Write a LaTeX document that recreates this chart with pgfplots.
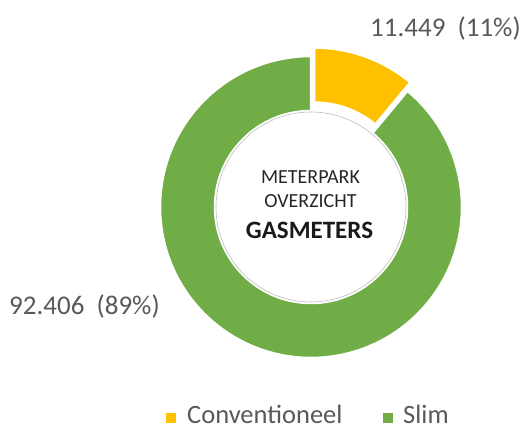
\documentclass[border=0pt]{standalone}
\usepackage{pgfplots}
\pgfplotsset{compat=1.18}
\usepackage{pgfplotstable}
\usepackage{fontspec}
\setmainfont{Carlito}
\definecolor{conv}{HTML}{FFC000}
\definecolor{slim}{HTML}{70AD47}
\definecolor{lbl}{HTML}{595959}
\definecolor{dark}{HTML}{262626}

\pgfplotstableread{
label value
Conventioneel 11449
Slim 92406
}\meterdata

\begin{document}
\begin{tikzpicture}
\pgfplotstablegetelem{0}{value}\of\meterdata \let\vconv\pgfplotsretval
\pgfplotstablegetelem{1}{value}\of\meterdata \let\vslim\pgfplotsretval
\edef\aconv{\fpeval{360*\vconv/(\vconv+\vslim)}}
\edef\aend{\fpeval{90-\aconv}}
\edef\amid{\fpeval{90-\aconv/2}}
\begin{axis}[
    width=528pt, height=430pt, scale only axis,
    xmin=0, xmax=528, ymin=0, ymax=430,
    hide axis, clip=false,
]
\coordinate (c) at (axis cs:311,223);
\coordinate (cc) at ([shift={(\amid:9pt)}]c);
% Slim
\fill[slim, draw=white, line width=2.5pt]
  ([shift={(\aend:151pt)}]c) arc[start angle=\aend, end angle=-270, radius=151pt]
  -- ([shift={(90:96pt)}]c) arc[start angle=-270, end angle=\aend, radius=96pt] -- cycle;
% Conventioneel (exploded)
\fill[conv, draw=white, line width=2.5pt]
  ([shift={(90:151pt)}]cc) arc[start angle=90, end angle=\aend, radius=151pt]
  -- ([shift={(\aend:96pt)}]cc) arc[start angle=\aend, end angle=90, radius=96pt] -- cycle;
\draw[black!25, line width=0.6pt] (c) circle[radius=95pt];
% centre text
\node[anchor=base, text=dark, font=\fontsize{20}{24}\selectfont] at (axis cs:310.5,246) {METERPARK};
\node[anchor=base, text=dark, font=\fontsize{20}{24}\selectfont] at (axis cs:310.5,222) {OVERZICHT};
\node[anchor=base, text=black!90, font=\fontsize{25}{30}\selectfont\bfseries] at (axis cs:309.5,191) {GASMETERS};
% data labels
\node[anchor=base west, inner sep=0pt, text=lbl, font=\fontsize{27}{30}\selectfont] at (axis cs:370,393) {11.449\ \ (11\%)};
\node[anchor=base west, inner sep=0pt, text=lbl, font=\fontsize{27}{30}\selectfont] at (axis cs:9,115) {92.406\ \ (89\%)};
% legend
\fill[conv] (axis cs:166,7) rectangle (axis cs:176,17);
\node[anchor=base west, inner sep=0pt, text=lbl, font=\fontsize{26.5}{30}\selectfont] at (axis cs:187,6.5) {Conventioneel};
\fill[slim] (axis cs:383,7) rectangle (axis cs:393,17);
\node[anchor=base west, inner sep=0pt, text=lbl, font=\fontsize{26.5}{30}\selectfont] at (axis cs:403,6.5) {Slim};
\end{axis}
\pgfresetboundingbox
\useasboundingbox (0,0) rectangle (528pt,430pt);
\end{tikzpicture}
\end{document}
